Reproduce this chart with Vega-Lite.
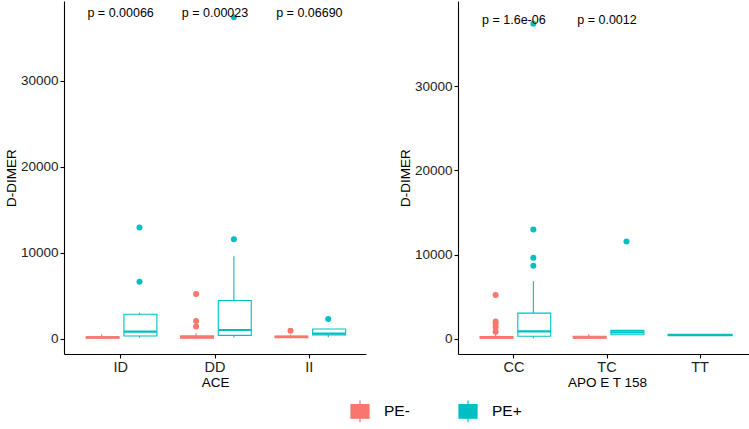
{
  "$schema": "https://vega.github.io/schema/vega-lite/v6.json",
  "padding": {"left": 4, "top": 1, "right": 1, "bottom": 0},
  "autosize": {"type": "pad"},
  "background": "white",
  "config": {
    "view": {"stroke": null},
    "font": "Liberation Sans",
    "axis": {"domainColor": "black", "domainWidth": 1.1, "tickColor": "black", "tickWidth": 1.1, "tickSize": 4, "labelColor": "#222222", "labelFontSize": 13.5, "titleFontSize": 13.5, "titleColor": "black", "titleFontWeight": "normal", "grid": false, "labelPadding": 2, "titlePadding": 2, "labelFont": "Liberation Sans", "titleFont": "Liberation Sans"}
  },
  "datasets": {
    "ace_box": [
      {"genotype": "ID", "group": "PE-", "lower": 20, "q1": 100, "median": 180, "q3": 250, "upper": 560},
      {"genotype": "ID", "group": "PE+", "lower": 130, "q1": 350, "median": 850, "q3": 2880, "upper": 3050},
      {"genotype": "DD", "group": "PE-", "lower": 20, "q1": 100, "median": 220, "q3": 380, "upper": 700},
      {"genotype": "DD", "group": "PE+", "lower": 160, "q1": 420, "median": 1040, "q3": 4470, "upper": 9630},
      {"genotype": "II", "group": "PE-", "lower": 60, "q1": 150, "median": 250, "q3": 330, "upper": 500},
      {"genotype": "II", "group": "PE+", "lower": 200, "q1": 460, "median": 620, "q3": 1160, "upper": 1200}
    ],
    "ace_out": [
      {"genotype": "ID", "pe": "PE+", "value": 6660},
      {"genotype": "ID", "pe": "PE+", "value": 12950},
      {"genotype": "DD", "pe": "PE-", "value": 5240},
      {"genotype": "DD", "pe": "PE-", "value": 2080},
      {"genotype": "DD", "pe": "PE-", "value": 1460},
      {"genotype": "DD", "pe": "PE+", "value": 11600},
      {"genotype": "DD", "pe": "PE+", "value": 37400},
      {"genotype": "II", "pe": "PE-", "value": 960},
      {"genotype": "II", "pe": "PE+", "value": 2310}
    ],
    "ace_p": [
      {"genotype": "ID", "label": "p = 0.00066"},
      {"genotype": "DD", "label": "p = 0.00023"},
      {"genotype": "II", "label": "p = 0.06690"}
    ],
    "apo_box": [
      {"genotype": "CC", "group": "PE-", "lower": 20, "q1": 100, "median": 180, "q3": 300, "upper": 600},
      {"genotype": "CC", "group": "PE+", "lower": 80, "q1": 320, "median": 900, "q3": 3070, "upper": 6850},
      {"genotype": "TC", "group": "PE-", "lower": 30, "q1": 100, "median": 200, "q3": 330, "upper": 550},
      {"genotype": "TC", "group": "PE+", "lower": 500, "q1": 510, "median": 790, "q3": 1020, "upper": 1050},
      {"genotype": "TT", "group": "PE+", "lower": 480, "q1": 480, "median": 480, "q3": 480, "upper": 480}
    ],
    "apo_out": [
      {"genotype": "CC", "pe": "PE-", "value": 5230},
      {"genotype": "CC", "pe": "PE-", "value": 2090},
      {"genotype": "CC", "pe": "PE-", "value": 1770},
      {"genotype": "CC", "pe": "PE-", "value": 1380},
      {"genotype": "CC", "pe": "PE-", "value": 870},
      {"genotype": "CC", "pe": "PE+", "value": 9640},
      {"genotype": "CC", "pe": "PE+", "value": 8700},
      {"genotype": "CC", "pe": "PE+", "value": 12990},
      {"genotype": "CC", "pe": "PE+", "value": 37400},
      {"genotype": "TC", "pe": "PE+", "value": 11570}
    ],
    "apo_p": [
      {"genotype": "CC", "label": "p = 1.6e-06"},
      {"genotype": "TC", "label": "p = 0.0012"}
    ]
  },
  "spacing": 32,
  "hconcat": [
    {
      "width": 302,
      "height": 353,
      "encoding": {
        "x": {"field": "genotype", "type": "nominal", "scale": {"domain": ["ID", "DD", "II"], "paddingInner": 0, "paddingOuter": 0.1}, "axis": {"title": "ACE", "labelAngle": 0, "labelFontSize": 14.5}}
      },
      "layer": [
        {
          "data": {"name": "ace_box"},
          "mark": {"type": "bar", "filled": false, "strokeWidth": 1.1, "width": {"band": 0.97}},
          "encoding": {
            "xOffset": {"field": "group", "type": "nominal", "scale": {"domain": ["PE-", "PE+"], "paddingInner": 0.1, "paddingOuter": 0.3}},
            "y": {"field": "q1", "type": "quantitative", "scale": {"domain": [-1750, 39300], "nice": false, "zero": false}, "axis": {"title": "D-DIMER", "values": [0, 10000, 20000, 30000], "format": "d"}},
            "y2": {"field": "q3"},
            "color": {"field": "group", "type": "nominal", "scale": {"domain": ["PE-", "PE+"], "range": ["#F8766D", "#00BFC4"]}, "legend": {"title": null, "orient": "none", "direction": "horizontal", "legendX": 280, "legendY": 394, "symbolType": "M-0.6,-0.45H0.6V0.45H-0.6Z M-0.6,0H0.6 M0,-0.45V-0.72 M0,0.45V0.72", "symbolSize": 900, "symbolStrokeWidth": 1.2, "labelFontSize": 15.5, "labelColor": "black", "labelFont": "Liberation Sans", "columnPadding": 42, "labelOffset": 8}}
          }
        },
        {
          "data": {"name": "ace_box"},
          "mark": {"type": "rule", "strokeWidth": 1.1},
          "encoding": {
            "xOffset": {"field": "group", "type": "nominal"},
            "y": {"field": "lower", "type": "quantitative"},
            "y2": {"field": "q1"},
            "color": {"field": "group", "type": "nominal"}
          }
        },
        {
          "data": {"name": "ace_box"},
          "mark": {"type": "rule", "strokeWidth": 1.1},
          "encoding": {
            "xOffset": {"field": "group", "type": "nominal"},
            "y": {"field": "q3", "type": "quantitative"},
            "y2": {"field": "upper"},
            "color": {"field": "group", "type": "nominal"}
          }
        },
        {
          "data": {"name": "ace_box"},
          "mark": {"type": "bar", "filled": false, "strokeWidth": 2.2, "width": {"band": 0.97}},
          "encoding": {
            "xOffset": {"field": "group", "type": "nominal"},
            "y": {"field": "median", "type": "quantitative"},
            "y2": {"field": "median"},
            "color": {"field": "group", "type": "nominal"}
          }
        },
        {
          "data": {"name": "ace_out"},
          "mark": {"type": "point", "filled": true, "opacity": 1, "size": 36, "strokeWidth": 0},
          "encoding": {
            "xOffset": {"field": "pe", "type": "nominal"},
            "y": {"field": "value", "type": "quantitative"},
            "fill": {"field": "pe", "type": "nominal", "scale": {"domain": ["PE-", "PE+"], "range": ["#F8766D", "#00BFC4"]}, "legend": null}
          }
        },
        {
          "data": {"name": "ace_p"},
          "mark": {"type": "text", "fontSize": 12.5, "color": "black", "font": "Liberation Sans", "dy": -4},
          "encoding": {
            "y": {"datum": 37400, "type": "quantitative"},
            "text": {"field": "label"}
          }
        }
      ]
    },
    {
      "width": 298,
      "height": 353,
      "encoding": {
        "x": {"field": "genotype", "type": "nominal", "scale": {"domain": ["CC", "TC", "TT"], "paddingInner": 0, "paddingOuter": 0.1}, "axis": {"title": "APO E T 158", "labelAngle": 0, "labelFontSize": 14.5}}
      },
      "layer": [
        {
          "data": {"name": "apo_box"},
          "transform": [{"filter": "datum.genotype !== 'TT'"}],
          "mark": {"type": "bar", "filled": false, "strokeWidth": 1.1, "width": {"band": 0.97}},
          "encoding": {
            "xOffset": {"field": "group", "type": "nominal", "scale": {"domain": ["PE-", "PE+"], "paddingInner": 0.1, "paddingOuter": 0.3}},
            "y": {"field": "q1", "type": "quantitative", "scale": {"domain": [-1780, 40100], "nice": false, "zero": false}, "axis": {"title": "D-DIMER", "values": [0, 10000, 20000, 30000], "format": "d"}},
            "y2": {"field": "q3"},
            "color": {"field": "group", "type": "nominal"}
          }
        },
        {
          "data": {"name": "apo_box"},
          "transform": [{"filter": "datum.genotype !== 'TT'"}],
          "mark": {"type": "rule", "strokeWidth": 1.1},
          "encoding": {
            "xOffset": {"field": "group", "type": "nominal"},
            "y": {"field": "lower", "type": "quantitative"},
            "y2": {"field": "q1"},
            "color": {"field": "group", "type": "nominal"}
          }
        },
        {
          "data": {"name": "apo_box"},
          "transform": [{"filter": "datum.genotype !== 'TT'"}],
          "mark": {"type": "rule", "strokeWidth": 1.1},
          "encoding": {
            "xOffset": {"field": "group", "type": "nominal"},
            "y": {"field": "q3", "type": "quantitative"},
            "y2": {"field": "upper"},
            "color": {"field": "group", "type": "nominal"}
          }
        },
        {
          "data": {"name": "apo_box"},
          "transform": [{"filter": "datum.genotype !== 'TT'"}],
          "mark": {"type": "bar", "filled": false, "strokeWidth": 2.2, "width": {"band": 0.97}},
          "encoding": {
            "xOffset": {"field": "group", "type": "nominal"},
            "y": {"field": "median", "type": "quantitative"},
            "y2": {"field": "median"},
            "color": {"field": "group", "type": "nominal"}
          }
        },
        {
          "data": {"name": "apo_box"},
          "transform": [{"filter": "datum.genotype === 'TT'"}],
          "mark": {"type": "bar", "filled": false, "strokeWidth": 2.4, "width": {"band": 0.7}},
          "encoding": {
            "y": {"field": "q1", "type": "quantitative"},
            "y2": {"field": "q3"},
            "color": {"field": "group", "type": "nominal"}
          }
        },
        {
          "data": {"name": "apo_out"},
          "mark": {"type": "point", "filled": true, "opacity": 1, "size": 36, "strokeWidth": 0},
          "encoding": {
            "xOffset": {"field": "pe", "type": "nominal"},
            "y": {"field": "value", "type": "quantitative"},
            "fill": {"field": "pe", "type": "nominal", "legend": null}
          }
        },
        {
          "data": {"name": "apo_p"},
          "mark": {"type": "text", "fontSize": 12.5, "color": "black", "font": "Liberation Sans", "dy": -4},
          "encoding": {
            "y": {"datum": 37400, "type": "quantitative"},
            "text": {"field": "label"}
          }
        }
      ]
    }
  ]
}
